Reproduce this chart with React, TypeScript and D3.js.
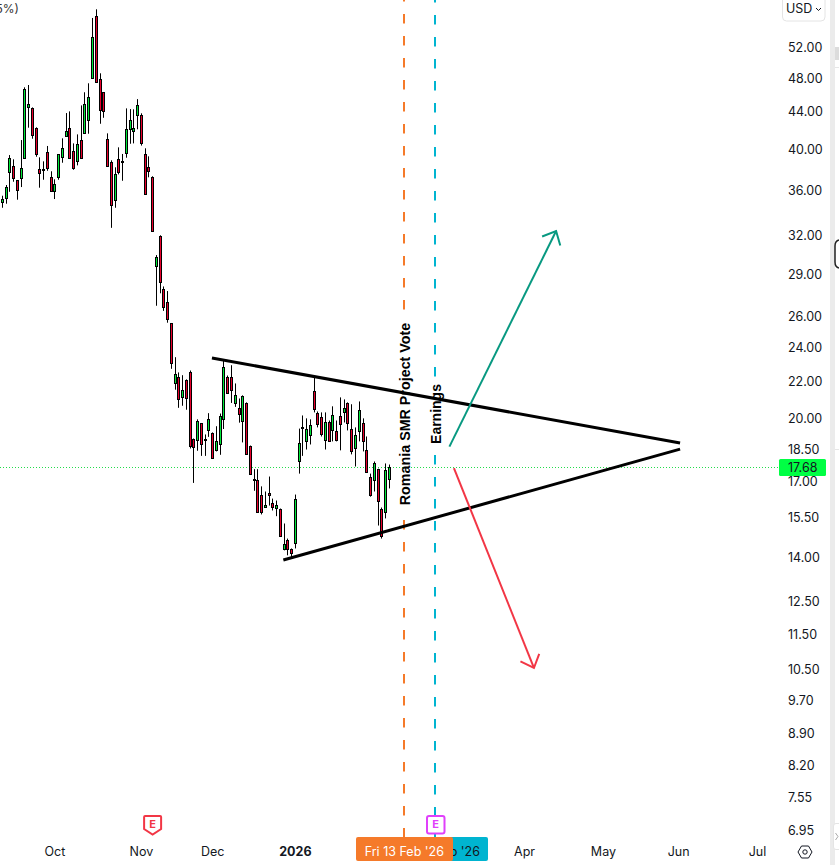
import * as d3 from "d3"
import { useEffect, useRef } from "react"

const opens = [34.94, 35.3, 37.68, 38.26, 36.91, 37.16, 39.12, 44.59, 44.41, 42.19, 37.97, 37.97, 39.67, 37.2, 35.94, 37.25, 39.22, 41.38, 42.19, 39.77, 38.82, 40.91, 41.72, 43.13, 48.06, 56.27, 47.86, 46.29, 41.01, 38.66, 35.12, 38.96, 38.76, 39.63, 42.09, 41.87, 43.63, 43.63, 39.47, 38.17, 37.2, 29.59, 31.99, 27.93, 26.97, 25.56, 21.9, 22.24, 21.13, 22.07, 22.58, 19.01, 18.96, 19.76, 19.01, 19.41, 19.26, 18.44, 18.72, 19.97, 22.29, 22.29, 20.83, 20.54, 19.86, 20.81, 18.67, 17.11, 17.07, 16.46, 15.96, 16.51, 16.12, 15.92, 15.88, 14.3, 14.63, 14.3, 14.55, 17.92, 19.56, 18.91, 19.16, 21.46, 20.28, 20.07, 18.96, 19.81, 19.41, 19.36, 20.12, 20.33, 20.81, 19.46, 18.53, 19.36, 19.76, 18.44, 17.24, 17.07, 17.59, 15.88, 15.72, 17.11]
const highs = [35.48, 36.47, 39.39, 38.96, 36.91, 40.94, 46.88, 47.16, 44.52, 42.3, 39.16, 38.76, 40.32, 37.78, 37.01, 39.47, 41.12, 43.88, 44.07, 40.59, 41.54, 44.75, 46.29, 47.37, 56.03, 57.29, 48.6, 46.29, 41.65, 38.86, 38.17, 40.18, 39.5, 44.41, 44.33, 44.3, 45.48, 43.85, 40.08, 39.26, 37.3, 30.46, 32.05, 28.1, 27.77, 25.56, 23.43, 22.53, 22.37, 22.13, 22.64, 19.01, 19.97, 19.76, 19.21, 20.29, 19.31, 19.62, 20.27, 23.25, 22.35, 22.95, 21.9, 21.07, 21.24, 20.86, 18.67, 17.57, 17.57, 16.81, 16.59, 17.24, 16.29, 16.21, 15.88, 15.28, 14.7, 14.33, 16.46, 19.5, 20.17, 20.02, 19.97, 22.24, 20.38, 20.33, 20.33, 19.91, 20.65, 19.91, 21.13, 21.02, 20.86, 20.76, 19.56, 20.91, 20.02, 19.11, 17.37, 17.92, 17.59, 15.92, 17.83, 17.78]
const lows = [34.4, 34.76, 35.84, 36.78, 35.12, 36.28, 39.02, 42.26, 41.08, 39.22, 36.22, 36.97, 37.83, 35.94, 35.18, 36.97, 38.62, 41.28, 39.02, 37.93, 38.36, 39.12, 41.65, 41.61, 47.94, 47.49, 42.69, 43.35, 38.26, 32.67, 34.4, 37.48, 36.87, 39.12, 40.55, 40.59, 42.09, 40.36, 35.6, 37.2, 32.37, 26.74, 27.61, 26.39, 25.6, 22.74, 21.55, 20.57, 20.68, 20.47, 18.53, 16.96, 18.42, 18.18, 18.18, 19.09, 18.06, 18.39, 18.23, 19.48, 21.35, 20.83, 20.62, 19.8, 18.82, 18.29, 17.37, 16.62, 15.72, 15.64, 15.96, 16.0, 15.8, 15.57, 14.77, 14.26, 14.08, 13.97, 14.33, 17.37, 18.18, 18.48, 18.72, 20.33, 19.56, 19.11, 18.48, 18.87, 18.87, 18.87, 18.44, 19.81, 19.41, 18.25, 17.69, 18.87, 18.39, 17.42, 16.37, 16.59, 15.2, 14.7, 15.48, 16.72]
const closes = [35.15, 36.25, 39.06, 37.16, 36.03, 38.07, 46.68, 44.87, 41.5, 39.53, 37.58, 37.9, 38.07, 35.94, 36.53, 39.47, 40.08, 41.87, 39.12, 38.13, 40.48, 39.12, 44.87, 45.68, 53.31, 47.49, 44.19, 44.07, 38.26, 34.61, 37.48, 37.68, 38.66, 42.09, 43.07, 42.19, 44.75, 40.65, 35.6, 37.83, 32.37, 30.28, 28.39, 26.66, 25.86, 23.11, 22.41, 21.02, 21.51, 21.07, 18.63, 18.58, 19.91, 18.72, 18.99, 19.97, 18.06, 18.87, 20.12, 22.82, 21.35, 21.51, 21.28, 20.23, 21.18, 18.29, 17.37, 17.1, 15.72, 15.72, 16.04, 16.42, 15.96, 16.04, 14.8, 14.48, 14.3, 14.15, 16.29, 18.77, 19.54, 19.46, 19.66, 20.49, 19.71, 19.21, 19.81, 18.87, 20.17, 18.96, 19.71, 20.57, 19.76, 18.39, 19.16, 20.44, 18.87, 17.46, 16.46, 17.87, 16.17, 14.81, 17.51, 17.68]

const priceTicks = [52, 48, 44, 40, 36, 32, 29, 26, 24, 22, 20, 18.5, 17, 15.5, 14, 12.5, 11.5, 10.5, 9.7, 8.9, 8.2, 7.55, 6.95]
const timeTicks = ["Oct", "Nov", "Dec", "2026", "Apr", "May", "Jun", "Jul"]
const timeTickBars = [14, 37, 56, 78, 139, 160, 180, 201]

const lastPrice = 17.68
const voteBar = 107
const earningsBar = 115.2
const pastEarningsBar = 40

// [bar, price] pairs
const resistance = [[55.8, 23.38], [180.4, 18.79]]
const support = [[74.8, 13.91], [180.4, 18.5]]
const upArrow = [[119, 18.62], [147.4, 32.4]]
const downArrow = [[120.2, 17.62], [141.5, 10.54]]

const App = () => {
  const svgRef = useRef<SVGSVGElement | null>(null)

  useEffect(() => {
    if (!svgRef.current) {
      return
    }

    // Clear previous chart
    d3.select(svgRef.current).selectAll("*").remove()

    const svg = d3.select(svgRef.current)
    const fontFamily = "Inter, sans-serif"
    const textColor = "#131722"

    // Bars are evenly spaced, log price scale like the original
    const x = d3.scaleLinear().domain([0, 103]).range([2.33, 389.3])
    const y = d3.scaleLog().domain([52, 6.95]).range([47, 830])

    const line = d3
      .line<number[]>()
      .x(d => x(d[0]))
      .y(d => y(d[1]))

    svg
      .append("text")
      .attr("x", 19)
      .attr("y", 13)
      .attr("text-anchor", "end")
      .attr("font-family", fontFamily)
      .attr("font-size", 12)
      .attr("fill", "#333")
      .text("5%)")

    // Last price line
    svg
      .append("line")
      .attr("x1", 0)
      .attr("x2", 779)
      .attr("y1", Math.round(y(lastPrice)) + 0.5)
      .attr("y2", Math.round(y(lastPrice)) + 0.5)
      .attr("stroke", "#22dd4a")
      .attr("stroke-dasharray", "1 2")

    // Candles
    const bars = d3.range(opens.length)
    const col = (i: number) => Math.floor(x(i))
    svg
      .append("g")
      .selectAll("line")
      .data(bars)
      .enter()
      .append("line")
      .attr("x1", i => col(i) + 0.5)
      .attr("x2", i => col(i) + 0.5)
      .attr("y1", i => y(highs[i]))
      .attr("y2", i => y(lows[i]))
      .attr("stroke", "#000")
      .attr("stroke-width", 1)

    svg
      .append("g")
      .selectAll("rect")
      .data(bars)
      .enter()
      .append("rect")
      .attr("x", i => col(i) - 0.5)
      .attr("width", 2)
      .attr("y", i => Math.round(y(Math.max(opens[i], closes[i]))) + 0.5)
      .attr("height", i =>
        Math.max(
          1,
          Math.round(y(Math.min(opens[i], closes[i]))) -
            Math.round(y(Math.max(opens[i], closes[i])))
        )
      )
      .attr("fill", i => (closes[i] >= opens[i] ? "#00e83a" : "#e8002c"))
      .attr("stroke", "#000")
      .attr("stroke-width", 1)

    // Event lines, broken where their labels sit
    const eventLine = (xPos: number, color: string, gapTop: number, gapBottom: number, start: number) => {
      const segments = [
        [start, gapTop],
        [gapBottom, 837],
      ]
      segments.forEach(s => {
        svg
          .append("line")
          .attr("x1", xPos)
          .attr("x2", xPos)
          .attr("y1", s[0])
          .attr("y2", s[1])
          .attr("stroke", color)
          .attr("stroke-width", 2)
          .attr("stroke-dasharray", "9.5 12.5")
          .attr("stroke-dashoffset", (s[0] - start) % 22)
      })
    }
    eventLine(Math.round(x(voteBar)), "#f57a2a", 320, 508, -8)
    eventLine(Math.round(x(earningsBar)), "#00b4d0", 380, 447, -7)

    // Triangle
    ;[resistance, support].forEach(d => {
      svg
        .append("path")
        .attr("d", line(d))
        .attr("fill", "none")
        .attr("stroke", "#000")
        .attr("stroke-width", 3)
    })

    // Breakout arrows
    const arrow = (d: number[][], color: string) => {
      const tipX = x(d[1][0])
      const tipY = y(d[1][1])
      const angle = Math.atan2(y(d[0][1]) - tipY, x(d[0][0]) - tipX)
      const barb = (a: number) => [tipX + 15 * Math.cos(angle + a), tipY + 15 * Math.sin(angle + a)]
      const b1 = barb(0.74)
      const b2 = barb(-0.74)
      svg
        .append("path")
        .attr("d", line(d))
        .attr("fill", "none")
        .attr("stroke", color)
        .attr("stroke-width", 2)
      svg
        .append("path")
        .attr("d", `M${b1[0]},${b1[1]}L${tipX},${tipY}L${b2[0]},${b2[1]}`)
        .attr("fill", "none")
        .attr("stroke", color)
        .attr("stroke-width", 2)
    }
    arrow(upArrow, "#089981")
    arrow(downArrow, "#f23645")

    // Event labels
    const eventLabel = (xPos: number, yPos: number, size: number, label: string) => {
      svg
        .append("text")
        .attr("transform", `translate(${xPos},${yPos}) rotate(-90)`)
        .attr("text-anchor", "middle")
        .attr("font-family", "'Liberation Sans', Arial, sans-serif")
        .attr("font-weight", "bold")
        .attr("font-size", size)
        .attr("fill", "#000")
        .text(label)
    }
    eventLabel(409.5, 414, 14.3, "Romania SMR Project Vote")
    eventLabel(441, 414, 14, "Earnings")

    // Scale strip on the right edge
    svg.append("rect").attr("x", 830).attr("y", 0).attr("width", 5).attr("height", 865).attr("fill", "#ebebeb")
    svg.append("rect").attr("x", 835).attr("y", 47).attr("width", 4).attr("height", 13).attr("fill", "#dcdcdc")
    svg.append("line").attr("x1", 835).attr("x2", 839).attr("y1", 67.5).attr("y2", 67.5).attr("stroke", "#e6e6e6")
    svg.append("line").attr("x1", 835).attr("x2", 839).attr("y1", 449.5).attr("y2", 449.5).attr("stroke", "#e6e6e6")
    svg
      .append("path")
      .attr("d", "M839,240Q835,241 835,246V262Q835,267 839,268")
      .attr("fill", "none")
      .attr("stroke", "#222")
      .attr("stroke-width", 1.5)
    svg
      .append("path")
      .attr("d", "M839,823.5H836Q833.5,823.5 833.5,826V847Q833.5,849.5 836,849.5H839")
      .attr("fill", "#fff")
      .attr("stroke", "#e4e4e4")
    svg
      .append("path")
      .attr("d", "M835.5,833L838,836.5L835.5,840")
      .attr("fill", "none")
      .attr("stroke", "#aaa")

    // Currency button
    svg
      .append("path")
      .attr("d", "M782.5,-2V17Q782.5,21 786.5,21H821Q825,21 825,17V-2")
      .attr("fill", "#fff")
      .attr("stroke", "#e4e4e4")
    svg
      .append("text")
      .attr("x", 786)
      .attr("y", 13)
      .attr("font-family", fontFamily)
      .attr("font-size", 12.5)
      .attr("fill", textColor)
      .text("USD")
    svg
      .append("path")
      .attr("d", "M816,8L818.5,10.5L821,8")
      .attr("fill", "none")
      .attr("stroke", textColor)

    // Price axis
    svg
      .append("g")
      .selectAll("text")
      .data(priceTicks)
      .enter()
      .append("text")
      .attr("x", 788)
      .attr("y", d => y(d))
      .attr("dy", "0.36em")
      .attr("font-family", fontFamily)
      .attr("font-size", 12.5)
      .attr("fill", textColor)
      .text(d => d.toFixed(2))

    svg
      .append("rect")
      .attr("x", 779)
      .attr("y", 459)
      .attr("width", 47)
      .attr("height", 17)
      .attr("rx", 1.5)
      .attr("fill", "#00ff44")
    svg
      .append("text")
      .attr("x", 788)
      .attr("y", y(lastPrice) + 1)
      .attr("dy", "0.36em")
      .attr("font-family", fontFamily)
      .attr("font-size", 12.5)
      .attr("fill", textColor)
      .text(lastPrice.toFixed(2))

    // Time axis
    svg
      .append("g")
      .selectAll("text")
      .data(timeTicks)
      .enter()
      .append("text")
      .attr("x", (_d, i) => x(timeTickBars[i]))
      .attr("y", 851)
      .attr("dy", "0.36em")
      .attr("text-anchor", "middle")
      .attr("font-family", fontFamily)
      .attr("font-size", 12.5)
      .attr("font-weight", d => (d === "2026" ? 700 : 400))
      .attr("fill", textColor)
      .text(d => d)

    // Date tags on the time axis
    svg.append("rect").attr("x", 387).attr("y", 837).attr("width", 101).attr("height", 24).attr("rx", 2).attr("fill", "#00b4d0")
    svg
      .append("text")
      .attr("x", x(earningsBar))
      .attr("y", 851)
      .attr("dy", "0.36em")
      .attr("text-anchor", "middle")
      .attr("font-family", fontFamily)
      .attr("font-size", 12.5)
      .attr("fill", textColor)
      .text("Thu 26 Feb '26")
    svg.append("rect").attr("x", 356).attr("y", 837).attr("width", 97).attr("height", 24).attr("rx", 2).attr("fill", "#f57a2a")
    svg
      .append("text")
      .attr("x", x(voteBar))
      .attr("y", 851)
      .attr("dy", "0.36em")
      .attr("text-anchor", "middle")
      .attr("font-family", fontFamily)
      .attr("font-size", 12.5)
      .attr("fill", "#fff")
      .text("Fri 13 Feb '26")

    // Earnings badges
    const badgeLetter = (xPos: number, color: string) => {
      svg
        .append("text")
        .attr("x", xPos)
        .attr("y", 824.5)
        .attr("dy", "0.36em")
        .attr("text-anchor", "middle")
        .attr("font-family", fontFamily)
        .attr("font-weight", 700)
        .attr("font-size", 11)
        .attr("fill", color)
        .text("E")
    }
    const pastX = x(pastEarningsBar)
    svg
      .append("path")
      .attr("d", `M${pastX - 8.5},817Q${pastX - 8.5},816 ${pastX - 7.5},816H${pastX + 7.5}Q${pastX + 8.5},816 ${pastX + 8.5},817V829L${pastX},834.5L${pastX - 8.5},829Z`)
      .attr("fill", "#fff")
      .attr("stroke", "#f23645")
      .attr("stroke-width", 2)
    badgeLetter(pastX, "#f23645")
    svg
      .append("rect")
      .attr("x", 427)
      .attr("y", 816)
      .attr("width", 17.5)
      .attr("height", 17.5)
      .attr("rx", 2)
      .attr("fill", "#fff")
      .attr("stroke", "#e040fb")
      .attr("stroke-width", 2)
    badgeLetter(435.7, "#e040fb")

    // Settings icon
    svg
      .append("path")
      .attr("d", "M798,852L801.5,846H808.5L812,852L808.5,858H801.5Z")
      .attr("fill", "none")
      .attr("stroke", textColor)
    svg
      .append("circle")
      .attr("cx", 805)
      .attr("cy", 852)
      .attr("r", 2.2)
      .attr("fill", "none")
      .attr("stroke", textColor)
  }, [])

  return (
    <svg
      ref={svgRef}
      width={839}
      height={865}
      style={{ position: "absolute", left: 0, top: 0, background: "#fff" }}
    />
  )
}

export default App
